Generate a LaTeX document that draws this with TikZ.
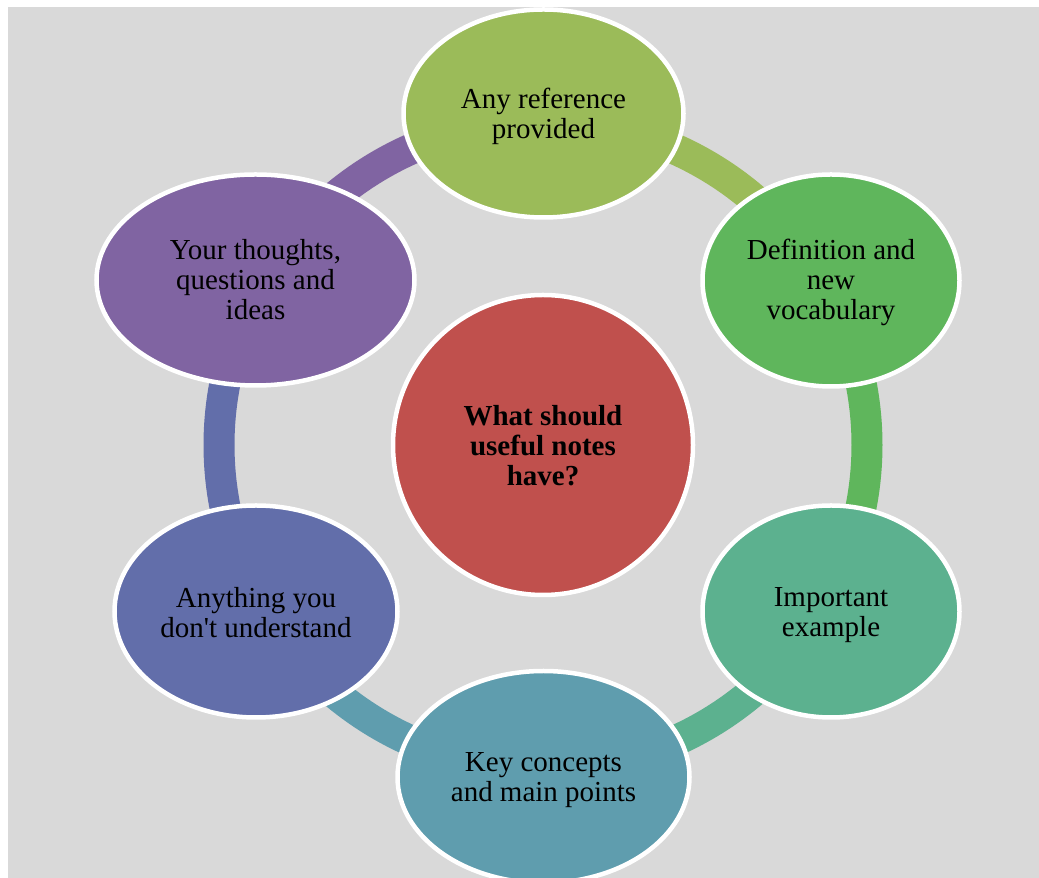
\documentclass[tikz,border=0pt]{standalone}
\usepackage{fontspec}
\setmainfont{Liberation Serif}
\usetikzlibrary{shapes.geometric,calc}
\definecolor{bgc}{HTML}{D9D9D9}
\definecolor{cTop}{HTML}{9BBB59}
\definecolor{cRU}{HTML}{5FB65C}
\definecolor{cRL}{HTML}{5CB18F}
\definecolor{cBot}{HTML}{5F9DAE}
\definecolor{cLL}{HTML}{626EAA}
\definecolor{cLU}{HTML}{8064A2}
\definecolor{cMid}{HTML}{C0504D}
\tikzset{
  bubble/.style={ellipse, draw=white, line width=4.5pt, fill=#1, inner sep=0pt},
  txt/.style={inner sep=0pt, align=center, font=\fontsize{29}{30}\selectfont, text=black},
  ringarc/.style={draw=#1, line width=31pt},
}
\begin{document}
\begin{tikzpicture}[x=1pt,y=1pt]
\useasboundingbox (0,0) rectangle (1039,878);
\fill[white] (0,0) rectangle (1039,878);
\fill[bgc] (8,0) rectangle (1039,871);
\coordinate (O) at (543,433);
\coordinate (a1) at ($(O)+(90:324)$);
\coordinate (a2) at ($(O)+(30:324)$);
\coordinate (a3) at ($(O)+(-30:324)$);
\coordinate (a4) at ($(O)+(-90:324)$);
\coordinate (a5) at ($(O)+(-150:324)$);
\coordinate (a6) at ($(O)+(150:324)$);
% ring segments
\draw[ringarc=cTop] (a1) arc[start angle=90, end angle=30, radius=324];
\draw[ringarc=cRU] (a2) arc[start angle=30, end angle=-30, radius=324];
\draw[ringarc=cRL] (a3) arc[start angle=-30, end angle=-90, radius=324];
\draw[ringarc=cBot] (a4) arc[start angle=-90, end angle=-150, radius=324];
\draw[ringarc=cLL] (a5) arc[start angle=-150, end angle=-210, radius=324];
\draw[ringarc=cLU] (a6) arc[start angle=150, end angle=90, radius=324];
% nodes
\node[bubble=cTop, minimum width=280, minimum height=208] (top) at (543.5,764.5) {};
\node[bubble=cRU, minimum width=257, minimum height=212] (ru) at (831,597.5) {};
\node[bubble=cRL, minimum width=257, minimum height=212] (rl) at (831,266.5) {};
\node[bubble=cBot, minimum width=292, minimum height=212] (bot) at (543.5,101) {};
\node[bubble=cLL, minimum width=283, minimum height=212] (ll) at (256,266.5) {};
\node[bubble=cLU, minimum width=318, minimum height=211] (lu) at (255.5,598) {};
\node[bubble=cMid, circle, minimum size=300] (mid) at (O) {};
% texts
\node[txt] (topt) at ([yshift=-3pt]top.center) {Any reference\\provided};
\node[txt] (rut) at ([yshift=-1.5pt]ru.center) {Definition and\\new\\vocabulary};
\node[txt] (rlt) at ([yshift=-3.5pt]rl.center) {Important\\example};
\node[txt] (bott) at ([yshift=-3.5pt]bot.center) {Key concepts\\and main points};
\node[txt] (llt) at ([yshift=-1pt]ll.center) {Anything you\\don\textquotesingle t understand};
\node[txt] (lut) at (lu.center) {Your thoughts,\\questions and\\ideas};
\node[txt, font=\fontsize{29}{30}\selectfont\bfseries] (midt) at ([yshift=-1pt]mid.center) {What should\\useful notes\\have?};
\end{tikzpicture}
\end{document}
